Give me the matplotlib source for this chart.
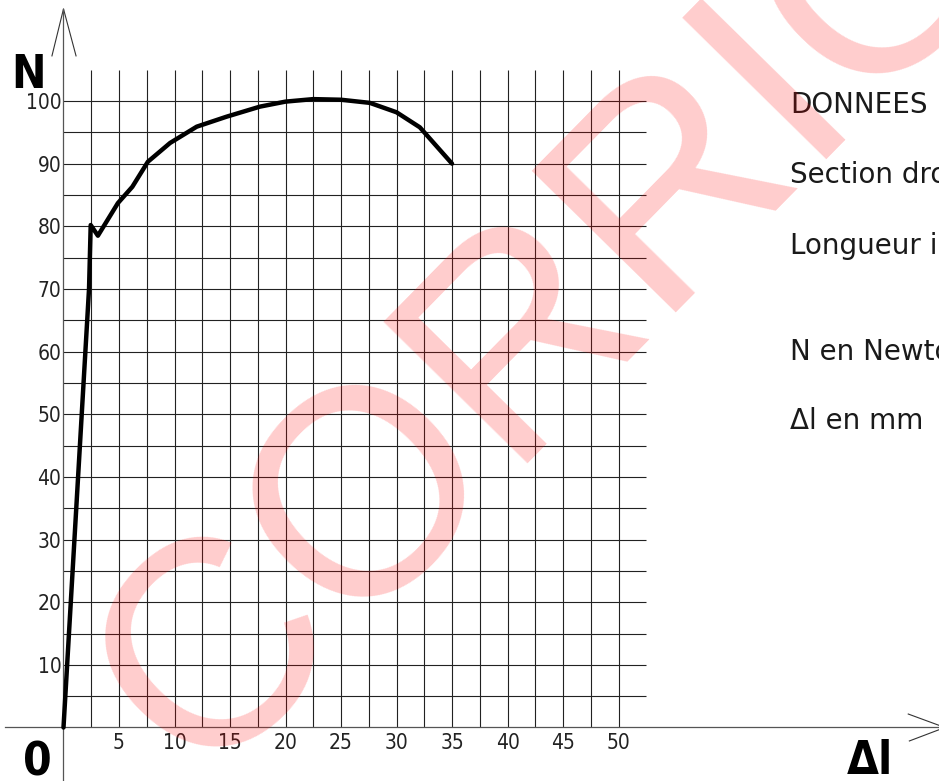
import numpy as np
import matplotlib
matplotlib.use("Agg")
import matplotlib.pyplot as plt

# tensile test curve
delta_l = [0, 2.3, 2.45, 3.1, 4.9, 6.2, 7.6, 9.6, 12.0, 14.7, 17.7, 20.0,
           22.5, 25.0, 27.6, 30.0, 32.1, 35.0]
force_n = [0, 70, 80.2, 78.5, 83.7, 86.3, 90.3, 93.3, 95.9, 97.5, 99.1, 99.9,
           100.3, 100.2, 99.7, 98.2, 95.8, 90.0]

x_ticks = [5, 10, 15, 20, 25, 30, 35, 40, 45, 50]
y_ticks = [10, 20, 30, 40, 50, 60, 70, 80, 90, 100]
x_grid = np.arange(2.5, 50.1, 2.5)
y_grid = np.arange(5, 100.1, 5)

notes = ["DONNEES", "Section droite", "Longueur initiale", "N en Newton", "\u0394l en mm"]
note_baselines = [113, 183, 254, 360, 429]  # pixel rows

W, H = 939, 781
fig = plt.figure(figsize=(W / 100, H / 100), dpi=100)
ax = fig.add_axes([0, 0, 1, 1])
ax.set_xlim(-5.72, 78.87)
ax.set_ylim(-8.54, 116.12)

tick_font = dict(family="DejaVu Sans", fontstretch="condensed", fontweight="light",
                 fontsize=15, color="#222222")

# grid limited to the drawing area
ax.vlines(x_grid, 0, 105, colors="#222222", linewidth=0.8, zorder=1)
ax.hlines(y_grid, 0, 52.5, colors="#222222", linewidth=0.8, zorder=1)

# curve
ax.plot(delta_l, force_n, color="black", linewidth=3.2, solid_joinstyle="round",
        solid_capstyle="round", zorder=3)

# axes through the origin
for side in ["top", "right"]:
    ax.spines[side].set_visible(False)
ax.spines["left"].set_position(("data", 0))
ax.spines["bottom"].set_position(("data", 0))
ax.spines["left"].set_bounds(-8.54, 114.7)
ax.spines["bottom"].set_bounds(-5.27, 78.87)
for side in ["left", "bottom"]:
    ax.spines[side].set_color("#555555")
    ax.spines[side].set_linewidth(0.9)

ax.set_xticks(x_ticks)
ax.set_xticklabels([str(v) for v in x_ticks], **tick_font)
ax.set_yticks(y_ticks)
ax.set_yticklabels([str(v) for v in y_ticks], **tick_font)
ax.tick_params(axis="x", length=0, pad=4)
ax.tick_params(axis="y", length=0, pad=1.5)

# arrow heads
ax.plot([-1.04, 0, 1.13], [107.2, 114.7, 107.2], color="#333333", linewidth=0.8)
ax.plot([76.1, 79.4, 76.2], [2.15, 0, -2.15], color="#333333", linewidth=0.8, clip_on=True)

# axis names
big = dict(family="DejaVu Sans", fontstretch="condensed", fontweight="bold",
           fontsize=33, color="black")
fig.text(11 / W, 1 - 88 / H, "N", va="baseline", ha="left", **big)
fig.text(23 / W, 1 - 776 / H, "0", va="baseline", ha="left", **big)
fig.text(847 / W, 1 - 774 / H, "\u0394l", va="baseline", ha="left", **big)

# side notes
for txt, yb in zip(notes, note_baselines):
    fig.text(790 / W, 1 - yb / H, txt, va="baseline", ha="left", fontsize=20,
             family="DejaVu Sans", color="#1a1a1a")

# watermark
fig.text(678 / W, 1 - 295 / H, "CORRIGE", rotation=45.5, rotation_mode="anchor",
         ha="center", va="baseline", fontsize=211, family="Liberation Sans",
         color="red", alpha=0.2, zorder=10)

fig.savefig("out.png", dpi=100)
